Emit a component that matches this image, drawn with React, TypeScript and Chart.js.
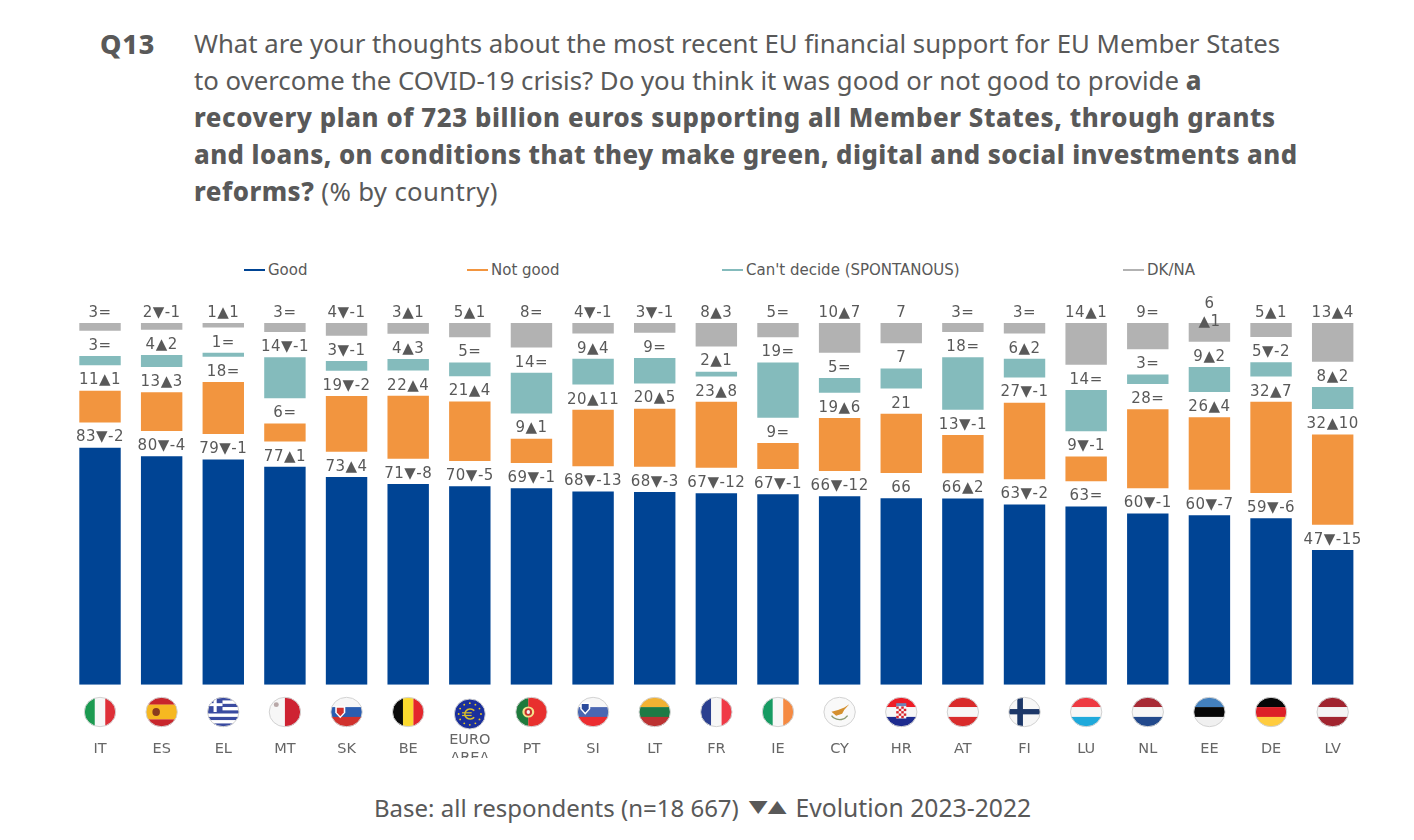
import React, { useEffect, useRef } from 'react';
import Chart from 'chart.js/auto';

const countries = ['IT', 'ES', 'EL', 'MT', 'SK', 'BE', 'EA', 'PT', 'SI', 'LT', 'FR', 'IE', 'CY', 'HR', 'AT', 'FI', 'LU', 'NL', 'EE', 'DE', 'LV'];
const tickLabels: (string | string[])[] = ['IT', 'ES', 'EL', 'MT', 'SK', 'BE', ['EURO', 'AREA'], 'PT', 'SI', 'LT', 'FR', 'IE', 'CY', 'HR', 'AT', 'FI', 'LU', 'NL', 'EE', 'DE', 'LV'];

const good = [82.9, 79.9, 78.8, 76.2, 72.6, 70.2, 69.4, 68.7, 67.6, 67.4, 67.0, 66.6, 65.9, 65.2, 65.1, 63.0, 62.3, 59.9, 59.3, 58.2, 47.1];
const notGood = [11.1, 13.5, 18.2, 6.3, 19.5, 22.0, 20.8, 8.5, 19.7, 20.3, 23.1, 9.1, 18.5, 20.7, 13.4, 26.8, 8.7, 27.6, 25.4, 31.9, 31.6];
const cantDecide = [3.3, 4.2, 1.4, 14.3, 3.4, 4.0, 4.8, 14.2, 9.0, 8.9, 1.7, 19.3, 5.2, 7.0, 18.3, 6.5, 14.4, 3.3, 8.7, 5.0, 7.7];
const dkNa = [2.7, 2.4, 1.6, 3.2, 4.5, 3.8, 5.0, 8.6, 3.7, 3.4, 8.2, 5.0, 10.4, 7.1, 3.2, 3.7, 14.6, 9.2, 6.6, 4.9, 13.6];

const goodLabels = ['83▼-2', '80▼-4', '79▼-1', '77▲1', '73▲4', '71▼-8', '70▼-5', '69▼-1', '68▼-13', '68▼-3', '67▼-12', '67▼-1', '66▼-12', '66', '66▲2', '63▼-2', '63=', '60▼-1', '60▼-7', '59▼-6', '47▼-15'];
const notGoodLabels = ['11▲1', '13▲3', '18=', '6=', '19▼-2', '22▲4', '21▲4', '9▲1', '20▲11', '20▲5', '23▲8', '9=', '19▲6', '21', '13▼-1', '27▼-1', '9▼-1', '28=', '26▲4', '32▲7', '32▲10'];
const cantDecideLabels = ['3=', '4▲2', '1=', '14▼-1', '3▼-1', '4▲3', '5=', '14=', '9▲4', '9=', '2▲1', '19=', '5=', '7', '18=', '6▲2', '14=', '3=', '9▲2', '5▼-2', '8▲2'];
const dkNaLabels = ['3=', '2▼-1', '1▲1', '3=', '4▼-1', '3▲1', '5▲1', '8=', '4▼-1', '3▼-1', '8▲3', '5=', '10▲7', '7', '3=', '3=', '14▲1', '9=', '6\n▲1', '5▲1', '13▲4'];

const seriesNames = ['Good', 'Not good', "Can't decide (SPONTANOUS)", 'DK/NA'];
const seriesColors = ['#004494', '#F2953F', '#84BBBC', '#B2B2B2'];
const seriesValues = [good, notGood, cantDecide, dkNa];
const seriesLabels = [goodLabels, notGoodLabels, cantDecideLabels, dkNaLabels];
const legendLeft = [244, 467, 722, 1123];

// empty space stacked between the blocks
const GAP = 8.84;
const TEXT = '#595959';
const TITLE_FONT = '"Noto Sans", sans-serif';

const stripes: Record<string, { dir: 'h' | 'v'; colors: string[]; weights?: number[] }> = {
  IT: { dir: 'v', colors: ['#1B9A50', '#F7F7F7', '#DE2F38'] },
  ES: { dir: 'h', colors: ['#C8262C', '#F6B821', '#C8262C'], weights: [1, 2, 1] },
  EL: { dir: 'h', colors: ['#3A4BA0', '#fff', '#3A4BA0', '#fff', '#3A4BA0', '#fff', '#3A4BA0', '#fff', '#3A4BA0'] },
  MT: { dir: 'v', colors: ['#F7F7F7', '#CE2232'] },
  SK: { dir: 'h', colors: ['#F7F7F7', '#2A5DB0', '#D0312D'] },
  BE: { dir: 'v', colors: ['#0A0A0A', '#FBD92F', '#E4262C'] },
  EA: { dir: 'h', colors: ['#1A2F9C'] },
  PT: { dir: 'v', colors: ['#1E7A3C', '#E8302E'], weights: [2, 3] },
  SI: { dir: 'h', colors: ['#F7F7F7', '#4A67B2', '#EC2C30'] },
  LT: { dir: 'h', colors: ['#F2B233', '#1D7A45', '#BC3232'] },
  FR: { dir: 'v', colors: ['#2A3F8F', '#F7F7F7', '#F03A47'] },
  IE: { dir: 'v', colors: ['#169B62', '#F7F7F7', '#F58A42'] },
  CY: { dir: 'h', colors: ['#F9F9F9'] },
  HR: { dir: 'h', colors: ['#EE1C25', '#F7F7F7', '#1D2B8F'] },
  AT: { dir: 'h', colors: ['#D92B2B', '#F7F7F7', '#D92B2B'] },
  FI: { dir: 'h', colors: ['#F7F7F7'] },
  LU: { dir: 'h', colors: ['#EE3A42', '#F7F7F7', '#1EA9DB'] },
  NL: { dir: 'h', colors: ['#A82A35', '#F7F7F7', '#22498C'] },
  EE: { dir: 'h', colors: ['#4380BD', '#060606', '#F0F0F0'] },
  DE: { dir: 'h', colors: ['#070707', '#DD2027', '#FFCC3E'] },
  LV: { dir: 'h', colors: ['#A1242F', '#F4F4F4', '#A1242F'] },
};

// the bits that are not plain stripes, drawn in a -1..1 box
const drawEmblem = (ctx: CanvasRenderingContext2D, code: string) => {
  const rect = (c: string, x: number, y: number, w: number, h: number) => {
    ctx.fillStyle = c;
    ctx.fillRect(x, y, w, h);
  };
  const blob = (c: string, x: number, y: number, rx: number, ry: number) => {
    ctx.fillStyle = c;
    ctx.beginPath();
    ctx.ellipse(x, y, rx, ry, 0, 0, Math.PI * 2);
    ctx.fill();
  };
  if (code === 'ES') {
    blob('#8A3B1E', -0.35, 0, 0.24, 0.28);
  } else if (code === 'EL') {
    rect('#3A4BA0', -1, -1, 0.95, 1.0);
    rect('#fff', -0.62, -1, 0.2, 1.0);
    rect('#fff', -1, -0.6, 0.95, 0.2);
  } else if (code === 'MT') {
    blob('#B8A8A8', -0.55, -0.5, 0.16, 0.16);
  } else if (code === 'SK' || code === 'SI') {
    const x = code === 'SK' ? -0.4 : -0.5;
    const y = code === 'SK' ? -0.05 : -0.3;
    const c = code === 'SK' ? '#D0312D' : '#2A4A9C';
    ctx.fillStyle = '#fff';
    ctx.beginPath();
    ctx.moveTo(x - 0.32, y - 0.34);
    ctx.lineTo(x + 0.32, y - 0.34);
    ctx.lineTo(x + 0.32, y + 0.1);
    ctx.lineTo(x, y + 0.48);
    ctx.lineTo(x - 0.32, y + 0.1);
    ctx.fill();
    ctx.fillStyle = c;
    ctx.beginPath();
    ctx.moveTo(x - 0.22, y - 0.24);
    ctx.lineTo(x + 0.22, y - 0.24);
    ctx.lineTo(x + 0.22, y + 0.08);
    ctx.lineTo(x, y + 0.34);
    ctx.lineTo(x - 0.22, y + 0.08);
    ctx.fill();
  } else if (code === 'EA') {
    ctx.fillStyle = '#E8C81E';
    for (let i = 0; i < 12; i++) {
      const a = (i * Math.PI) / 6;
      ctx.beginPath();
      ctx.arc(Math.cos(a) * 0.72, Math.sin(a) * 0.72, 0.06, 0, Math.PI * 2);
      ctx.fill();
    }
    ctx.strokeStyle = '#D8BE2C';
    ctx.lineWidth = 0.1;
    ctx.beginPath();
    ctx.arc(0.02, 0, 0.34, 0.7, Math.PI * 2 - 0.7);
    ctx.stroke();
    rect('#D8BE2C', -0.5, -0.12, 0.62, 0.08);
    rect('#D8BE2C', -0.5, 0.06, 0.62, 0.08);
  } else if (code === 'PT') {
    blob('#F4E28C', -0.2, 0, 0.38, 0.38);
    blob('#C8322E', -0.2, 0, 0.24, 0.26);
    blob('#F4F4F4', -0.2, 0, 0.11, 0.13);
  } else if (code === 'CY') {
    ctx.fillStyle = '#D5902E';
    ctx.beginPath();
    ctx.moveTo(-0.52, -0.02);
    ctx.lineTo(-0.1, -0.14);
    ctx.lineTo(0.3, -0.3);
    ctx.lineTo(0.62, -0.52);
    ctx.lineTo(0.3, -0.16);
    ctx.lineTo(0.16, 0.12);
    ctx.lineTo(-0.22, 0.26);
    ctx.fill();
    ctx.strokeStyle = '#8C9C74';
    ctx.lineWidth = 0.09;
    ctx.beginPath();
    ctx.arc(0, -0.1, 0.62, 0.6, Math.PI - 0.6);
    ctx.stroke();
  } else if (code === 'HR') {
    rect('#F7F7F7', -0.32, -0.42, 0.64, 0.86);
    for (let r = 0; r < 5; r++) {
      for (let c = 0; c < 4; c++) {
        if ((r + c) % 2 === 0) rect('#D8242C', -0.32 + c * 0.16, -0.38 + r * 0.16, 0.16, 0.16);
      }
    }
    rect('#6D86B8', -0.32, -0.6, 0.64, 0.2);
  } else if (code === 'FI') {
    rect('#1C3768', -1, -0.2, 2, 0.36);
    rect('#1C3768', -0.46, -1, 0.36, 2);
  }
};

const drawFlag = (ctx: CanvasRenderingContext2D, code: string, cx: number, cy: number, rx: number, ry: number) => {
  const f = stripes[code];
  ctx.save();
  ctx.translate(cx, cy);
  ctx.scale(rx, ry);
  ctx.beginPath();
  ctx.arc(0, 0, 1, 0, Math.PI * 2);
  ctx.clip();
  const weights = f.weights ?? f.colors.map(() => 1);
  const total = weights.reduce((a, b) => a + b, 0);
  let pos = -1;
  f.colors.forEach((c, i) => {
    const size = (weights[i] / total) * 2;
    ctx.fillStyle = c;
    if (f.dir === 'h') ctx.fillRect(-1, pos, 2, size + 0.01);
    else ctx.fillRect(pos, -1, size + 0.01, 2);
    pos += size;
  });
  drawEmblem(ctx, code);
  ctx.restore();
  ctx.save();
  ctx.strokeStyle = '#D2D2D2';
  ctx.lineWidth = 1;
  ctx.beginPath();
  ctx.ellipse(cx, cy, rx, ry, 0, 0, Math.PI * 2);
  ctx.stroke();
  ctx.restore();
};

const flagsPlugin = {
  id: 'flags',
  afterDraw(chart: any) {
    const { ctx, scales } = chart;
    countries.forEach((code, i) => {
      const x = scales.x.getPixelForTick(i);
      const y = chart.chartArea.bottom + (code === 'EA' ? 29.3 : 27.3);
      drawFlag(ctx, code, x, y, code === 'EA' ? 15.5 : 15.7, code === 'EA' ? 15 : 14.7);
    });
  },
};

const barLabelsPlugin = {
  id: 'barLabels',
  afterDatasetsDraw(chart: any) {
    const { ctx } = chart;
    ctx.save();
    ctx.font = '15px "DejaVu Sans"';
    ctx.fillStyle = TEXT;
    ctx.textAlign = 'center';
    ctx.textBaseline = 'alphabetic';
    ctx.letterSpacing = '0.5px';
    chart.data.datasets.forEach((ds: any, d: number) => {
      if (!ds.barLabels) return;
      chart.getDatasetMeta(d).data.forEach((bar: any, i: number) => {
        const lines = ds.barLabels[i].split('\n');
        const last = bar.y - 6.2 + (lines.length - 1) * 9;
        lines.forEach((line: string, l: number) => {
          ctx.fillText(line, bar.x, last - (lines.length - 1 - l) * 18);
        });
      });
    });
    ctx.restore();
  },
};

const titleLines: { text: string; bold?: boolean; spacing?: number }[][] = [
  [{ text: 'What are your thoughts about the most recent EU financial support for EU Member States' }],
  [{ text: 'to overcome the COVID-19 crisis? Do you think it was good or not good to provide ' }, { text: 'a', bold: true, spacing: 0.5 }],
  [{ text: 'recovery plan of 723 billion euros supporting all Member States, through grants', bold: true, spacing: 0.58 }],
  [{ text: 'and loans, on conditions that they make green, digital and social investments and', bold: true, spacing: 0.44 }],
  [{ text: 'reforms?', bold: true, spacing: 0.5 }, { text: ' (% by country)', spacing: 0.35 }],
];
const titleTops = [42.5, 79.5, 116.5, 153.5, 190.5];

export default function App() {
  const canvasRef = useRef<HTMLCanvasElement>(null);

  useEffect(() => {
    if (!canvasRef.current) return;
    const datasets: any[] = [];
    seriesValues.forEach((values, s) => {
      datasets.push({
        label: seriesNames[s],
        data: values,
        backgroundColor: seriesColors[s],
        barLabels: seriesLabels[s],
        barPercentage: 0.84,
        categoryPercentage: 0.8,
      });
      if (s < seriesValues.length - 1) {
        datasets.push({
          label: '',
          data: countries.map(() => GAP),
          backgroundColor: 'transparent',
          barPercentage: 0.84,
          categoryPercentage: 0.8,
        });
      }
    });
    const chart = new Chart(canvasRef.current, {
      type: 'bar',
      data: { labels: tickLabels as any, datasets },
      plugins: [flagsPlugin, barLabelsPlugin],
      options: {
        animation: false,
        responsive: false,
        devicePixelRatio: 1,
        layout: { padding: { left: 69.2, right: 50.5, top: 43, bottom: 0 } },
        plugins: { legend: { display: false }, tooltip: { enabled: false } },
        scales: {
          x: {
            stacked: true,
            grid: { display: false },
            border: { display: false },
            afterFit: (scale: any) => { scale.height = 73.3; },
            ticks: {
              color: '#666666',
              font: { family: '"DejaVu Sans"', size: 14.5 },
              padding: 48,
              autoSkip: false,
              maxRotation: 0,
              crossAlign: 'center',
            },
          },
          y: { stacked: true, display: false, min: 0, max: 126.5 },
        },
      } as any,
    });
    return () => chart.destroy();
  }, []);

  return (
    <div style={{ position: 'absolute', left: 0, top: 0, width: 1414, height: 840, overflow: 'hidden', background: '#fff', color: TEXT }}>
      <div style={{ position: 'absolute', left: 100, top: 42.5, transform: 'translateY(-50%)', font: `800 27px ${TITLE_FONT}`, letterSpacing: 0.8, whiteSpace: 'nowrap' }}>Q13</div>
      {titleLines.map((line, i) => (
        <div key={i} style={{ position: 'absolute', left: 194, top: titleTops[i], transform: 'translateY(-50%)', font: `400 25.75px ${TITLE_FONT}`, whiteSpace: 'pre' }}>
          {line.map((part, j) => (
            <span key={j} style={{ fontWeight: part.bold ? 800 : 400, letterSpacing: part.spacing ?? 0 }}>{part.text}</span>
          ))}
        </div>
      ))}
      {seriesNames.map((name, i) => (
        <div key={name} style={{ position: 'absolute', left: legendLeft[i], top: 270, transform: 'translateY(-50%)', display: 'flex', alignItems: 'center', font: '15px "DejaVu Sans"', whiteSpace: 'nowrap' }}>
          <span style={{ display: 'inline-block', width: 21, height: 2.5, marginRight: 3, background: seriesColors[i] }} />
          {name}
        </div>
      ))}
      <canvas ref={canvasRef} width={1414} height={478} style={{ position: 'absolute', left: 0, top: 280, width: 1414, height: 478 }} />
      <div style={{ position: 'absolute', left: 374, top: 806.5, transform: 'translateY(-50%)', font: `400 24px ${TITLE_FONT}`, whiteSpace: 'pre' }}>
        Base: all respondents (n=18 667)
        <span style={{ display: 'inline-block', font: '24.5px "DejaVu Sans"', marginLeft: 10, marginRight: 9, transform: 'translateY(-2px) scaleY(0.7)' }}>▼▲</span>
        <span style={{ fontSize: 24.7 }}>Evolution 2023-2022</span>
      </div>
    </div>
  );
}
